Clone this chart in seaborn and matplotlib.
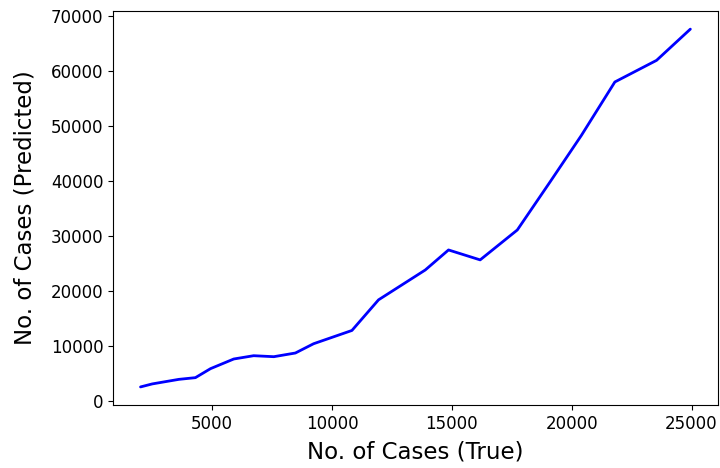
import seaborn as sns
import matplotlib.pyplot as plt

# values
true_cases = [2010, 2500, 2980, 3610, 4300, 4930, 5900, 6730, 7570, 8470, 9230,
              10830, 11940, 13890, 14860, 16180, 17730, 19100, 20400, 21800,
              23540, 24950]
pred_cases = [2490, 3040, 3400, 3870, 4180, 5820, 7580, 8180, 8000, 8670, 10360,
              12780, 18360, 23800, 27450, 25640, 31090, 39870, 48300, 58060,
              62000, 67690]

sns.set_style('ticks')
plt.rcParams['font.family'] = ['DejaVu Sans']
for key in ['text.color', 'axes.labelcolor', 'xtick.color', 'ytick.color', 'axes.edgecolor']:
    plt.rcParams[key] = 'black'

fig, ax = plt.subplots(figsize=(7.2, 4.68), dpi=100)
sns.lineplot(x=true_cases, y=pred_cases, color='blue', linewidth=2, ax=ax)
ax.set_xlabel('No. of Cases (True)', fontsize=16.5, labelpad=5.5)
ax.set_ylabel('No. of Cases (Predicted)', fontsize=16.5, labelpad=10.5)
ax.tick_params(labelsize=12)
plt.subplots_adjust(left=0.157, right=0.997, top=0.976, bottom=0.135)
plt.savefig('out.png', dpi=100)
